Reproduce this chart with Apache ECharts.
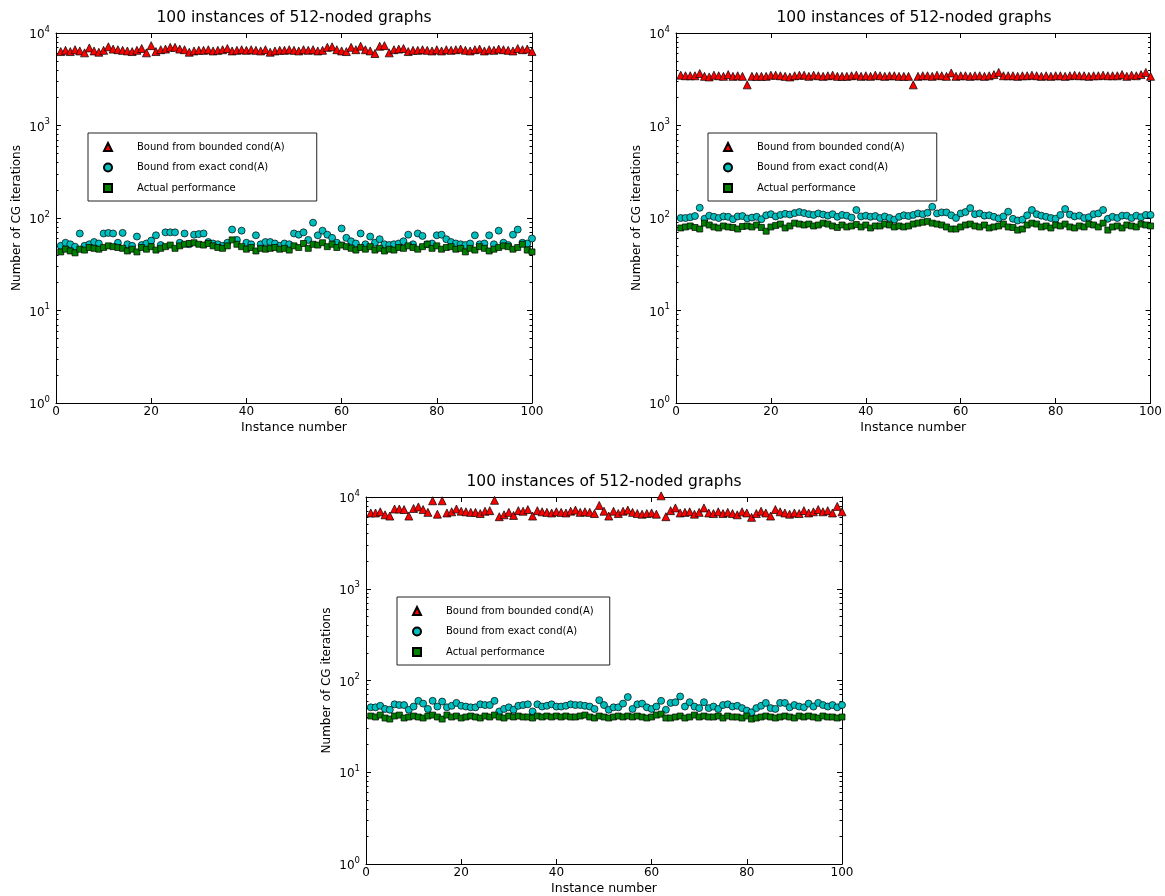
<!DOCTYPE html>
<html>
<head>
<meta charset="utf-8">
<script src="https://cdn.jsdelivr.net/npm/echarts@6/dist/echarts.min.js"></script>
<style>
  html, body { margin: 0; padding: 0; background: #fff; }
  #chart { width: 1165px; height: 896px; }
</style>
</head>
<body>
<div id="chart"></div>
<script>
// Instance numbers on the x axis
const instances = Array.from({ length: 100 }, (_, i) => i + 1);

const seriesNames = ['Bound from bounded cond(A)', 'Bound from exact cond(A)', 'Actual performance'];
const panelTitle = '100 instances of 512-noded graphs';
const xTicks = [0, 20, 40, 60, 80, 100];
const yDecades = [1, 10, 100, 1000, 10000];

// ---- Panel A (top left) ----
const boundedA = [
  6300, 6500, 6300, 6600, 6400, 6100, 6900, 6400, 6200, 6500,
  7100, 6700, 6600, 6500, 6400, 6300, 6500, 6800, 6100, 7300,
  6300, 6600, 6700, 7000, 7000, 6700, 6600, 6200, 6400, 6500,
  6500, 6600, 6400, 6500, 6600, 6800, 6400, 6500, 6600, 6500,
  6600, 6500, 6400, 6600, 6200, 6400, 6500, 6500, 6600, 6500,
  6400, 6600, 6500, 6600, 6400, 6500, 7000, 7100, 6600, 6400,
  6300, 7000, 6600, 7200, 6600, 6400, 6000, 7200, 7300, 6100,
  6600, 6700, 6800, 6300, 6500, 6500, 6600, 6500, 6400, 6600,
  6400, 6600, 6500, 6600, 6700, 6500, 6400, 6600, 6700, 6400,
  6600, 6500, 6700, 6600, 6500, 6400, 6800, 6600, 6700, 6300
];
const exactA = [
  50, 54, 52, 49, 68, 50, 52, 55, 53, 68,
  69, 68, 54, 69, 52, 50, 63, 51, 53, 57,
  65, 51, 70, 70, 70, 54, 68, 52, 66, 67,
  68, 55, 53, 52, 50, 54, 75, 58, 73, 54,
  52, 65, 52, 55, 55, 53, 50, 53, 52, 68,
  66, 70, 58, 89, 65, 73, 66, 61, 54, 77,
  61, 56, 53, 68, 52, 63, 54, 59, 52, 51,
  52, 53, 56, 66, 52, 68, 64, 52, 53, 65,
  66, 59, 55, 53, 52, 51, 53, 65, 52, 53,
  65, 52, 73, 54, 51, 66, 75, 54, 53, 60
];
const actualA = [
  43, 46, 44, 42, 46, 45, 48, 47, 46, 48,
  50, 49, 48, 47, 44, 46, 43, 48, 46, 49,
  45, 47, 49, 51, 47, 50, 52, 53, 54, 52,
  51, 53, 50, 48, 47, 50, 58, 52, 49, 46,
  48, 44, 47, 46, 47, 48, 46, 47, 45, 50,
  48, 53, 47, 52, 51, 54, 49, 52, 48, 51,
  49, 47, 45, 48, 46, 49, 45, 47, 44, 46,
  45, 48, 47, 50, 48, 46, 49, 52, 47, 50,
  46, 48, 49, 46, 47, 43, 47, 45, 49, 47,
  44, 46, 48, 50, 49, 46, 48, 52, 45, 43
];

// ---- Panel B (top right) ----
const boundedB = [
  3500, 3450, 3450, 3450, 3650, 3400, 3350, 3500, 3450, 3400,
  3550, 3400, 3450, 3400, 2750, 3400, 3400, 3400, 3400, 3500,
  3500, 3450, 3400, 3350, 3450, 3500, 3500, 3400, 3500, 3450,
  3400, 3450, 3500, 3400, 3400, 3400, 3450, 3500, 3400, 3450,
  3400, 3500, 3450, 3400, 3450, 3450, 3400, 3400, 3400, 2750,
  3400, 3450, 3450, 3400, 3500, 3450, 3400, 3700, 3400, 3450,
  3450, 3400, 3450, 3450, 3400, 3450, 3550, 3750, 3450, 3450,
  3450, 3400, 3450, 3450, 3500, 3450, 3400, 3450, 3400, 3450,
  3450, 3400, 3450, 3500, 3450, 3450, 3400, 3450, 3450, 3500,
  3450, 3450, 3450, 3550, 3400, 3500, 3450, 3550, 3750, 3400
];
const exactB = [
  100, 100, 102, 105, 129, 98, 106, 103, 100, 104,
  103, 97, 104, 105, 99, 101, 103, 97, 107, 110,
  104, 108, 111, 109, 113, 116, 113, 110, 108, 112,
  109, 106, 110, 103, 108, 106, 101, 122, 104, 106,
  103, 105, 100, 104, 100, 96, 103, 107, 105, 108,
  112, 110, 114, 132, 112, 115, 115, 107, 100, 112,
  116, 128, 110, 112, 106, 107, 103, 99, 104, 117,
  98, 94, 96, 107, 122, 110, 106, 103, 100, 98,
  108, 125, 109, 104, 106, 100, 102, 110, 112, 122,
  98, 103, 100, 106, 106, 100, 106, 102, 108, 108
];
const actualB = [
  78, 80, 82, 79, 76, 88, 84, 80, 78, 82,
  80, 79, 76, 81, 82, 80, 84, 79, 72, 80,
  83, 86, 78, 82, 88, 86, 84, 86, 82, 84,
  88, 86, 82, 79, 84, 80, 82, 85, 80, 84,
  78, 82, 82, 86, 84, 80, 82, 80, 82, 86,
  88, 90, 92, 88, 86, 84, 80, 76, 76, 80,
  84, 86, 82, 80, 84, 78, 80, 82, 86, 80,
  79, 74, 76, 84, 88, 86, 80, 82, 78, 84,
  82, 86, 80, 78, 82, 80, 86, 84, 80, 88,
  74, 80, 82, 78, 84, 82, 80, 86, 84, 82
];

// ---- Panel C (bottom) ----
const boundedC = [
  6700, 6700, 6900, 6400, 6200, 7400, 7400, 7300, 6200, 7500,
  7800, 7300, 6800, 9100, 6500, 9100, 6700, 6900, 7400, 7000,
  6900, 6800, 6800, 6600, 7000, 7100, 9200, 6100, 6400, 6800,
  6300, 7100, 7000, 7300, 6200, 7100, 6900, 6800, 6700, 6900,
  6800, 6700, 7000, 7200, 6800, 6900, 6800, 6600, 8100, 7000,
  6200, 7000, 6600, 7000, 7200, 6800, 6600, 6500, 6600, 6700,
  6500, 10300, 6100, 7100, 7600, 6700, 6800, 6900, 6500, 6800,
  7600, 6700, 6600, 6900, 6600, 6800, 6600, 6400, 6900, 6700,
  6000, 6600, 7000, 6700, 6200, 7300, 6900, 6700, 6500, 6700,
  6600, 7100, 6700, 6900, 7300, 6900, 7100, 6700, 7900, 6900
];
const exactC = [
  51, 51, 53, 49, 48, 55, 54, 54, 48, 52,
  60, 56, 49, 60, 52, 59, 51, 53, 57, 53,
  52, 51, 51, 55, 54, 54, 60, 46, 49, 51,
  48, 53, 54, 55, 46, 55, 52, 53, 55, 52,
  52, 53, 55, 54, 54, 53, 52, 49, 61, 54,
  48, 51, 51, 56, 66, 49, 55, 56, 51, 49,
  52, 60, 48, 57, 58, 67, 52, 58, 52, 50,
  58, 50, 52, 49, 54, 55, 52, 53, 50, 47,
  45, 50, 53, 57, 50, 49, 57, 57, 51, 54,
  52, 51, 56, 52, 57, 54, 52, 54, 51, 54
];
const actualC = [
  41, 40, 42, 39, 38, 41, 42, 39, 40, 41,
  40, 39, 41, 42, 40, 38, 42, 40, 41, 39,
  40, 41, 40, 39, 41, 40, 42, 40, 39, 41,
  40, 41, 40, 40, 39, 41, 40, 41, 40, 41,
  40, 41, 40, 40, 41, 42, 40, 39, 41, 40,
  39, 40, 41, 40, 41, 40, 41, 40, 39, 40,
  42, 43, 39, 39, 40, 41, 39, 40, 42, 40,
  41, 40, 40, 41, 39, 41, 40, 40, 39, 41,
  38, 39, 40, 41, 40, 39, 40, 41, 40, 39,
  41, 40, 41, 40, 39, 41, 40, 40, 39, 40
];

const panels = [
  { rect: { left: 56, top: 33, width: 476, height: 370 }, legendAt: [88, 133], legendPad: [9, 32, 8, 15], values: [boundedA, exactA, actualA] },
  { rect: { left: 676, top: 33, width: 476, height: 370 }, legendAt: [708, 133], legendPad: [9, 32, 8, 15], values: [boundedB, exactB, actualB] },
  { rect: { left: 366, top: 497, width: 476, height: 369 }, legendAt: [397, 597], legendPad: [9, 16, 8, 15], values: [boundedC, exactC, actualC] }
];

const FONT = '"DejaVu Sans", sans-serif';
const markerStyle = [
  { symbol: 'triangle', symbolSize: 8, color: '#ff0000' },
  { symbol: 'circle', symbolSize: 7, color: '#00bfbf' },
  { symbol: 'rect', symbolSize: 6, color: '#008000' }
];

// minor tick positions of a log axis, expressed in decades
const minorDecades = [];
for (let d = 0; d < 4; d++) {
  for (let k = 2; k <= 9; k++) minorDecades.push(d + Math.log10(k));
}

const grid = [], xAxis = [], yAxis = [], series = [], title = [], legend = [];

panels.forEach((p, g) => {
  grid.push(Object.assign({ containLabel: false, show: false }, p.rect));

  title.push({
    text: panelTitle,
    left: p.rect.left + p.rect.width / 2,
    top: p.rect.top - 23,
    textAlign: 'center',
    padding: 0,
    textStyle: { fontFamily: FONT, fontSize: 15.5, fontWeight: 'normal', color: '#000' }
  });

  const axisLineStyle = { show: true, onZero: false, lineStyle: { color: '#000', width: 1 } };

  // bottom and top x axes
  xAxis.push({
    type: 'value', gridIndex: g, position: 'bottom', min: 0, max: 100, interval: 20,
    name: 'Instance number', nameLocation: 'middle', nameGap: 18,
    nameTextStyle: { fontFamily: FONT, fontSize: 12.5, color: '#000' },
    axisLine: axisLineStyle,
    axisTick: { show: true, inside: true, length: 5, lineStyle: { color: '#000' } },
    axisLabel: { fontFamily: FONT, fontSize: 12, color: '#000', margin: 3 },
    splitLine: { show: false }
  });
  xAxis.push({
    type: 'value', gridIndex: g, position: 'top', min: 0, max: 100, interval: 20,
    axisLine: axisLineStyle,
    axisTick: { show: true, inside: true, length: 5, lineStyle: { color: '#000' } },
    axisLabel: { show: false },
    splitLine: { show: false }
  });

  // left log axis carrying the data, right log axis as frame
  yAxis.push({
    type: 'log', logBase: 10, gridIndex: g, position: 'left', min: 1, max: 10000,
    name: 'Number of CG iterations', nameLocation: 'middle', nameGap: 33,
    nameTextStyle: { fontFamily: FONT, fontSize: 12, color: '#000' },
    axisLine: axisLineStyle,
    axisTick: { show: true, inside: true, length: 5, lineStyle: { color: '#000' } },
    axisLabel: {
      margin: 6,
      formatter: v => '{b|10}{s|' + Math.round(Math.log10(v)) + '}',
      rich: {
        b: { fontFamily: FONT, fontSize: 12, color: '#000', lineHeight: 16, verticalAlign: 'bottom' },
        s: { fontFamily: FONT, fontSize: 8.5, color: '#000', lineHeight: 16, verticalAlign: 'top' }
      }
    },
    splitLine: { show: false },
    minorTick: { show: false }
  });
  yAxis.push({
    type: 'log', logBase: 10, gridIndex: g, position: 'right', min: 1, max: 10000,
    axisLine: axisLineStyle,
    axisTick: { show: true, inside: true, length: 5, lineStyle: { color: '#000' } },
    axisLabel: { show: false },
    splitLine: { show: false }
  });
  // minor ticks on both sides (decade scale aligned with the log axes)
  ['left', 'right'].forEach(pos => {
    yAxis.push({
      type: 'value', gridIndex: g, position: pos, min: 0, max: 4,
      axisLine: { show: false, onZero: false },
      axisTick: { show: true, inside: true, length: 2.5, customValues: minorDecades, lineStyle: { color: '#000' } },
      axisLabel: { show: false },
      splitLine: { show: false }
    });
  });

  p.values.forEach((vals, s) => {
    const m = markerStyle[s];
    series.push({
      type: 'scatter',
      name: seriesNames[s],
      xAxisIndex: 2 * g,
      yAxisIndex: 4 * g,
      symbol: m.symbol,
      symbolSize: m.symbolSize,
      clip: false,
      itemStyle: { color: m.color, borderColor: '#000', borderWidth: 0.7, opacity: 1 },
      emphasis: { disabled: true },
      z: 3 + s,
      data: vals.map((v, i) => [instances[i], v])
    });
  });

  legend.push({
    data: seriesNames.map((n, s) => ({ name: n, icon: markerStyle[s].symbol })),
    orient: 'vertical',
    left: p.legendAt[0],
    top: p.legendAt[1],
    padding: p.legendPad,
    itemGap: 10.5,
    itemWidth: 8,
    itemHeight: 8,
    borderColor: '#222',
    borderWidth: 1,
    backgroundColor: '#fff',
    selectedMode: false,
    textStyle: { fontFamily: FONT, fontSize: 10, color: '#000', padding: [0, 0, 0, 20] }
  });
});

const chart = echarts.init(document.getElementById('chart'), null, { renderer: 'canvas' });
chart.setOption({
  backgroundColor: '#fff',
  animation: false,
  title, legend, grid, xAxis, yAxis, series
});
</script>
</body>
</html>
